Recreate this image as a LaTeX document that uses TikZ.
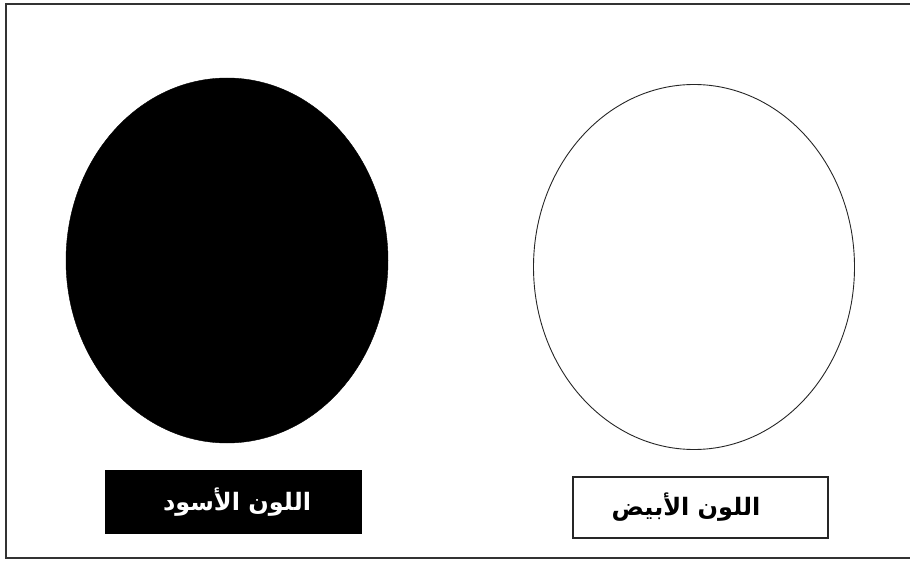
\documentclass[tikz,border=0pt]{standalone}
\usepackage{fontspec}
\newfontfamily\arabicfont[Script=Arabic]{DejaVu Sans}
\TeXXeTstate=1
\usetikzlibrary{shapes.geometric}
\begin{document}
\begin{tikzpicture}[x=1pt,y=-1pt,
frame/.style={draw=black!80,line width=2pt},
blackDisc/.style={ellipse,draw=black,fill=black,minimum width=322pt,minimum height=365pt,inner sep=0pt},
whiteDisc/.style={ellipse,draw=black!85,line width=0.9pt,minimum width=321pt,minimum height=365pt,inner sep=0pt},
labelBox/.style={rectangle,line width=1.4pt,inner sep=0pt},
labelText/.style={inner sep=0pt,font=\arabicfont\bfseries\fontsize{24}{28}\selectfont}]
\useasboundingbox (0,0) rectangle (910,561);
\draw[frame] (6,4) rectangle (914,558);
% discs
\node[blackDisc] (black) at (227,260.5) {};
\node[whiteDisc] (white) at (694,267) {};
% captions
\node[labelBox,draw=black,fill=black,minimum width=255pt,minimum height=62pt] (blackBox) at (233.5,502) {};
\node[labelText,text=white] (blackText) at (237,502) {\beginR اللون الأسود\endR};
\node[labelBox,draw=black!85,fill=white,minimum width=255pt,minimum height=61pt] (whiteBox) at (700.5,507.5) {};
\node[labelText,text=black] (whiteText) at (686,507) {\beginR اللون الأبيض\endR};
\end{tikzpicture}
\end{document}
